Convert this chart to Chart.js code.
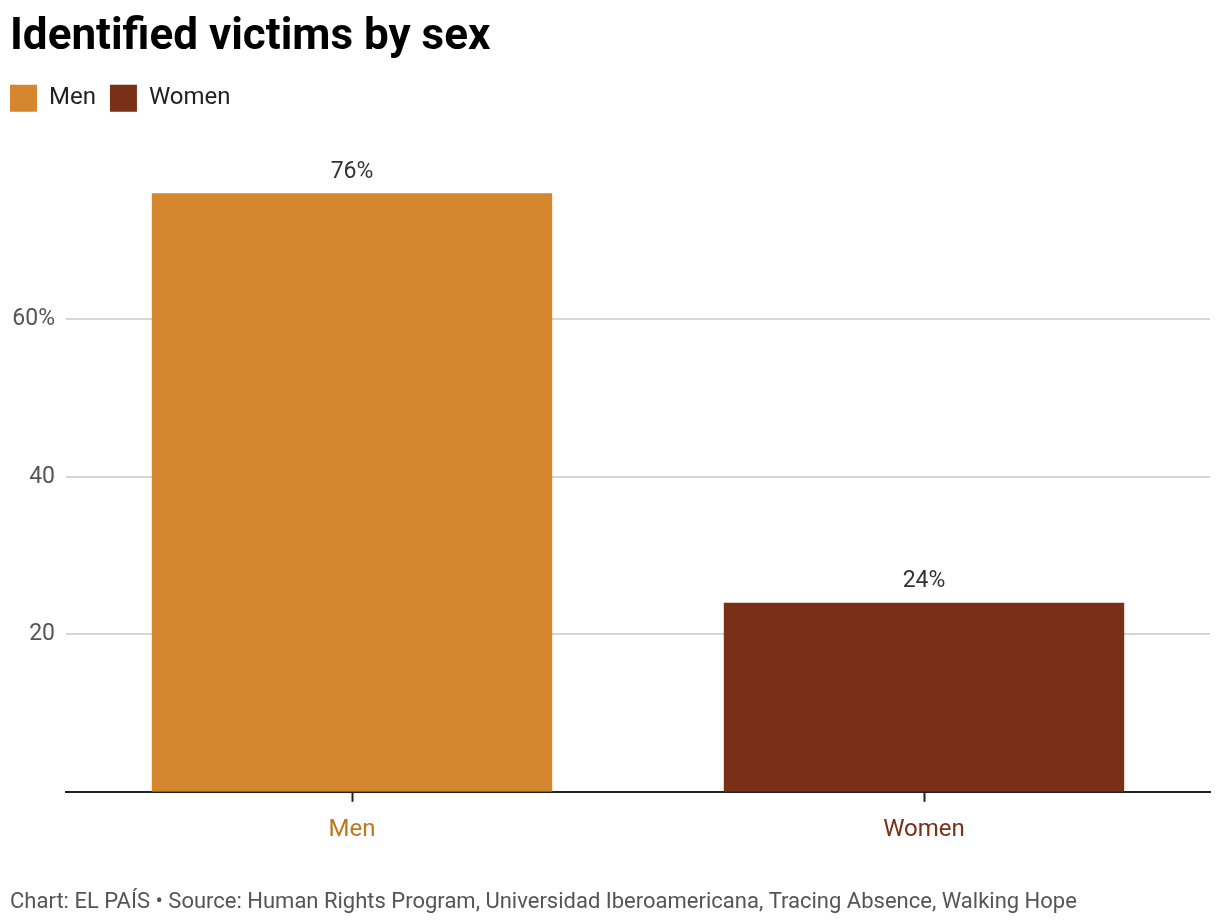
<!DOCTYPE html>
<html>
<head>
<meta charset="utf-8">
<script src="https://cdn.jsdelivr.net/npm/chart.js@4"></script>
<style>
html,body{margin:0;padding:0;background:#fff;}
#wrap{position:relative;width:1220px;height:924px;}
</style>
</head>
<body>
<div id="wrap"><canvas id="c" width="1220" height="924"></canvas></div>
<script>
const categories = ["Men", "Women"];
const values = [76, 24];
const valueLabels = ["76%", "24%"];
const barColors = ["#D4872E", "#7A3017"];
const tickLabelColors = ["#C0761A", "#7A3017"];
const yTicks = [20, 40, 60];
const yTickLabels = {20: "20", 40: "40", 60: "60%"};
const titleText = "Identified victims by sex";
const footerText = "Chart: EL PAÍS • Source: Human Rights Program, Universidad Iberoamericana, Tracing Absence, Walking Hope";

Chart.defaults.font.family = "Roboto, 'Noto Sans', sans-serif";

const valueLabelPlugin = {
  id: 'valueLabels',
  afterDatasetsDraw(chart) {
    const ctx = chart.ctx;
    const meta = chart.getDatasetMeta(0);
    ctx.save();
    ctx.font = "23px Roboto, sans-serif";
    ctx.fillStyle = "#333333";
    ctx.textAlign = "center";
    ctx.textBaseline = "bottom";
    meta.data.forEach((bar, i) => {
      ctx.fillText(valueLabels[i], bar.x, bar.y - 10);
    });
    ctx.restore();
  }
};

const legendSpacePlugin = {
  id: 'legendSpace',
  afterInit(chart) {
    const lg = chart.legend;
    if (lg && !lg._patched) {
      const origFit = lg.fit;
      lg.fit = function () {
        origFit.call(this);
        this.height += 40;
      };
      lg._patched = true;
    }
  },
  afterLayout(chart) {
    const lg = chart.legend;
    if (lg) { lg.left -= 14; lg.right -= 14; }
  }
};

new Chart(document.getElementById('c'), {
  type: 'bar',
  data: {
    labels: categories,
    datasets: [{
      data: values,
      backgroundColor: barColors,
      borderWidth: 0,
      barPercentage: 0.7,
      categoryPercentage: 1.0
    }]
  },
  options: {
    responsive: false,
    animation: false,
    devicePixelRatio: 1,
    layout: { padding: { left: 10, right: 10, top: 0, bottom: 8 } },
    plugins: {
      tooltip: { enabled: false },
      title: {
        display: true,
        text: titleText,
        align: 'start',
        color: '#000',
        font: { size: 44, weight: 'bold', family: "Roboto, sans-serif" },
        padding: { top: 12, bottom: 6 },
        fullSize: true
      },
      subtitle: {
        display: true,
        text: footerText,
        position: 'bottom',
        align: 'start',
        color: '#555555',
        font: { size: 22, family: "Roboto, sans-serif" },
        padding: { top: 31, bottom: 0 }
      },
      legend: {
        display: true,
        position: 'top',
        align: 'start',
        labels: {
          boxWidth: 27,
          boxHeight: 27,
          padding: 14,
          color: '#222',
          font: { size: 24, family: "Roboto, sans-serif" },
          generateLabels(chart) {
            return chart.data.labels.map((l, i) => ({
              text: l,
              fillStyle: barColors[i],
              strokeStyle: barColors[i],
              lineWidth: 0,
              fontColor: '#222',
              hidden: false,
              index: i
            }));
          }
        },
        onClick: null
      }
    },
    scales: {
      x: {
        offset: true,
        grid: { display: true, offset: false, drawOnChartArea: false, drawTicks: true, tickLength: 10, tickWidth: 2, tickColor: '#222' },
        border: { display: true, color: '#222', width: 2 },
        ticks: {
          color: (c) => tickLabelColors[c.index],
          font: { size: 24, family: "Roboto, sans-serif" },
          padding: 14
        }
      },
      y: {
        min: 0,
        max: 80,
        afterBuildTicks(scale) {
          scale.ticks = yTicks.map(v => ({ value: v }));
        },
        afterFit(scale) { scale.width = 56; },
        grid: { color: '#d6d6d6', lineWidth: 2, drawTicks: false },
        border: { display: false },
        ticks: {
          color: '#555555',
          font: { size: 23, family: "Roboto, sans-serif" },
          padding: 11,
          callback: (v) => yTickLabels[v]
        }
      }
    }
  },
  plugins: [valueLabelPlugin, legendSpacePlugin]
});
</script>
</body>
</html>
